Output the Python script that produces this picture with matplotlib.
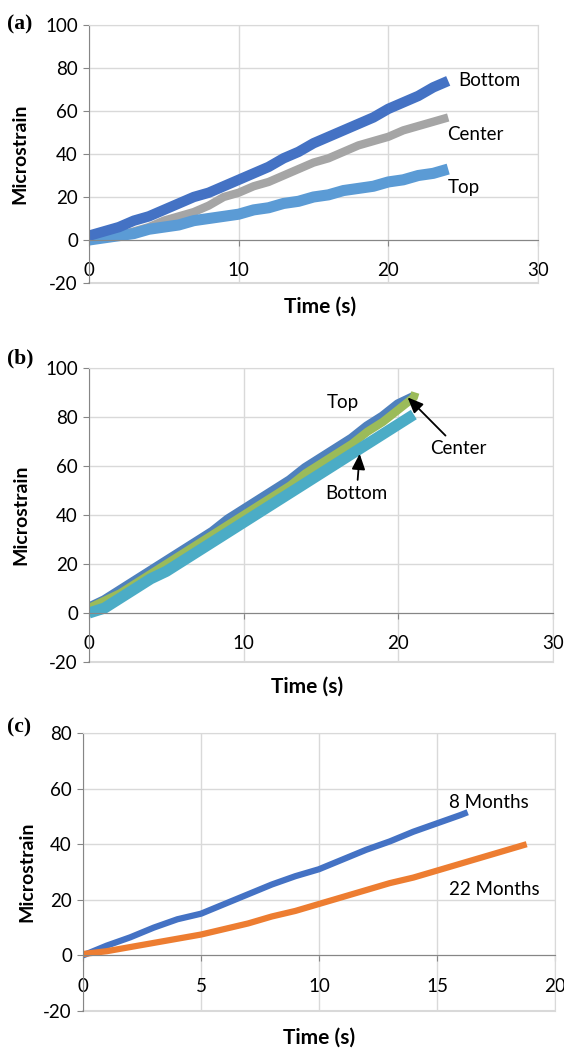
import matplotlib
matplotlib.use("Agg")
import matplotlib.pyplot as plt

plt.rcParams['font.family'] = ['Lato', 'DejaVu Sans']
plt.rcParams['axes.unicode_minus'] = False

# (a) strain vs time, three gauge positions
a_time   = [0, 1, 2, 3, 4, 5, 6, 7, 8, 9, 10, 11, 12, 13, 14, 15, 16, 17, 18, 19, 20, 21, 22, 23, 24]
a_bottom = [2, 4, 6, 9, 11, 14, 17, 20, 22, 25, 28, 31, 34, 38, 41, 45, 48, 51, 54, 57, 61, 64, 67, 71, 74]
a_center = [0, 1, 2, 4, 6, 9, 11, 13, 16, 20, 22, 25, 27, 30, 33, 36, 38, 41, 44, 46, 48, 51, 53, 55, 57]
a_top    = [0, 1, 2, 3, 5, 6, 7, 9, 10, 11, 12, 14, 15, 17, 18, 20, 21, 23, 24, 25, 27, 28, 30, 31, 33]

# (b)
b_time   = [0, 1, 2, 3, 4, 5, 6, 7, 8, 9, 10, 11, 12, 13, 14, 15, 16, 17, 18, 19, 20, 21]
b_top    = [2, 5, 9, 13, 17, 21, 25, 29, 33, 38, 42, 46, 50, 54, 59, 63, 67, 71, 76, 80, 85, 88]
b_center = [2, 5, 8, 12, 16, 20, 24, 28, 32, 36, 40, 44, 48, 52, 57, 61, 65, 69, 74, 78, 83, 88]
b_bottom = [0, 2, 6, 10, 14, 17, 21, 25, 29, 33, 37, 41, 45, 49, 53, 57, 61, 65, 69, 73, 77, 81]

# (c) age comparison
c_time_8  = [0, 1, 2, 3, 4, 5, 6, 7, 8, 9, 10, 11, 12, 13, 14, 15, 16, 16.3]
c_8mo     = [0, 3.5, 6.5, 10, 13, 15, 18.5, 22, 25.5, 28.5, 31, 34.5, 38, 41, 44.5, 47.5, 50.5, 51.5]
c_time_22 = [0, 1, 2, 3, 4, 5, 6, 7, 8, 9, 10, 11, 12, 13, 14, 15, 16, 17, 18, 18.8]
c_22mo    = [0.5, 1.5, 3, 4.5, 6, 7.5, 9.5, 11.5, 14, 16, 18.5, 21, 23.5, 26, 28, 30.5, 33, 35.5, 38, 40]

W, H = 564, 1049
fig = plt.figure(figsize=(W / 100, H / 100), dpi=100)


def make_axes(l, r, t, b):
    return fig.add_axes([l / W, 1 - b / H, (r - l) / W, (b - t) / H])


def style(ax, xmax, xstep, ymax, ylab_x, xlab_x, xlab_y):
    ax.set_xlim(0, xmax)
    ax.set_ylim(-20, ymax)
    ax.set_xticks(range(0, xmax + 1, xstep))
    ax.set_yticks(range(-20, ymax + 1, 20))
    ax.grid(True, color='#d9d9d9', lw=1)
    ax.set_axisbelow(True)
    for s in ('top', 'right'):
        ax.spines[s].set_color('#d9d9d9')
    ax.spines['left'].set_color('#868686')
    ax.spines['bottom'].set_color('#868686')
    ax.spines['bottom'].set_position(('data', 0))
    ax.axhline(-20, color='#d9d9d9', lw=1.5, clip_on=False, zorder=0)
    ax.tick_params(axis='both', color='#868686', length=4, labelsize=13.5,
                   labelcolor='black')
    ax.tick_params(axis='x', pad=12)
    ax.tick_params(axis='y', pad=4)
    ax.set_ylabel('Microstrain', fontsize=14, fontweight='bold')
    ax.set_xlabel('Time (s)', fontsize=15, fontweight='bold')
    ax.yaxis.set_label_coords(ylab_x, 0.5)
    ax.xaxis.set_label_coords(xlab_x, xlab_y)


arrow = dict(arrowstyle='-|>,head_length=0.7,head_width=0.3', color='black',
             lw=1.3, shrinkA=2, shrinkB=0)

# panel (a)
ax = make_axes(89, 538, 25, 283)
ax.plot(a_time, a_center, color='#a5a5a5', lw=6, solid_capstyle='butt')
ax.plot(a_time, a_top, color='#5b9bd5', lw=8, solid_capstyle='butt')
ax.plot(a_time, a_bottom, color='#4472c4', lw=7.5, solid_capstyle='butt')
ax.text(24.7, 74.4, 'Bottom', fontsize=13.5, va='center')
ax.text(23.9, 49.3, 'Center', fontsize=13.5, va='center')
ax.text(24.0, 24.6, 'Top', fontsize=13.5, va='center')
style(ax, 30, 10, 100, -0.134, 0.514, -0.054)

# panel (b)
ax = make_axes(89, 553, 368, 662)
ax.plot(b_time, b_top, color='#4f81bd', lw=8, solid_capstyle='butt')
ax.plot(b_time + [21.1], b_center + [90], color='#9bbb59', lw=6, solid_capstyle='butt')
ax.plot(b_time, b_bottom, color='#4bacc6', lw=8, solid_capstyle='butt')
ax.text(16.4, 86, 'Top', fontsize=13.5, ha='center', va='center')
ax.annotate('Center', xy=(20.6, 88), xytext=(23.9, 67), fontsize=13.5,
            ha='center', va='center', arrowprops=arrow)
ax.annotate('Bottom', xy=(17.5, 65), xytext=(17.3, 48.6), fontsize=13.5,
            ha='center', va='center', arrowprops=arrow)
style(ax, 30, 10, 100, -0.129, 0.47, -0.051)

# panel (c)
ax = make_axes(83, 555, 733, 1011)
ax.plot(c_time_8, c_8mo, color='#4472c4', lw=4.5, solid_capstyle='butt')
ax.plot(c_time_22, c_22mo, color='#ed7d31', lw=4.5, solid_capstyle='butt')
ax.text(15.5, 55, '8 Months', fontsize=13.5, va='center')
ax.text(15.5, 23.6, '22 Months', fontsize=13.5, va='center')
style(ax, 20, 5, 80, -0.10, 0.50, -0.061)

for lab, y in (('(a)', 24), ('(b)', 358), ('(c)', 727)):
    fig.text(7 / W, 1 - y / H, lab, fontsize=15.5, fontweight='bold',
             family='Liberation Serif', va='center', ha='left')

fig.savefig('out.png', dpi=100)
